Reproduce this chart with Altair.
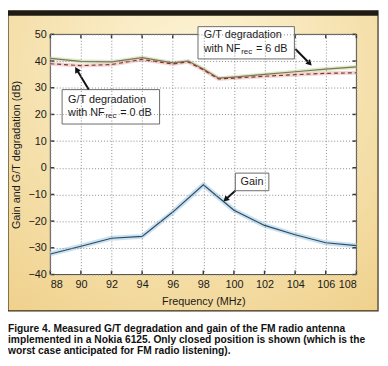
import altair as alt
import pandas as pd

# ---- data ----
freq = [88, 90, 92, 94, 96, 97, 98, 99, 100, 102, 104, 106, 108]
gt_nf6 = [41.0, 39.9, 39.7, 41.3, 39.3, 40.0, 37.0, 33.6, 34.0, 35.0, 36.0, 37.0, 37.8]
gt_nf0 = [39.0, 38.3, 38.7, 40.6, 38.9, 39.7, 36.7, 33.3, 33.6, 34.3, 34.9, 35.4, 35.6]

gain_freq = [88, 90, 92, 94, 96, 98, 100, 102, 104, 106, 108]
gain = [-32.3, -29.4, -26.4, -25.7, -16.6, -6.4, -15.9, -21.6, -25.1, -28.1, -29.2]

x_ticks = [88, 90, 92, 94, 96, 98, 100, 102, 104, 106, 108]
y_ticks = [-40, -30, -20, -10, 0, 10, 20, 30, 40, 50]

caption = [
    "Figure 4. Measured G/T degradation and gain of the FM radio antenna",
    "implemented in a Nokia 6125. Only closed position is shown (which is the",
    "worst case anticipated for FM radio listening).",
]

# annotation boxes (data coordinates)
boxes = pd.DataFrame({
    "f": [88.77, 97.65, 100.09],
    "f2": [95.14, 103.95, 102.28],
    "v": [29.3, 52.9, -2.0],
    "v2": [16.4, 40.8, -8.6],
})
box_text1 = pd.DataFrame({"f": [89.16, 98.03], "v": [25.3, 49.6], "t": ["G/T degradation", "G/T degradation"]})
box_text2 = pd.DataFrame({"f": [89.16, 98.03], "v": [20.5, 44.5], "t": ["with NF", "with NF"]})
box_sub = pd.DataFrame({"f": [89.16, 98.03], "v": [20.5, 44.5], "t": ["rec", "rec"]})
box_text3 = pd.DataFrame({"f": [89.16, 98.03], "v": [20.5, 44.5], "t": ["= 0 dB", "= 6 dB"]})
gain_label = pd.DataFrame({"f": [101.18], "v": [-5.3], "t": ["Gain"]})

arrows = pd.DataFrame({
    "f": [90.51, 104.01, 100.09],
    "v": [29.3, 44.5, -8.6],
    "f2": [89.72, 104.95, 99.45],
    "v2": [36.8, 39.1, -11.9],
})
arrow_tips = pd.DataFrame({
    "f": [89.72, 104.95, 99.45],
    "v": [36.8, 39.1, -11.9],
    "ang": [330.0, 135.0, 228.0],
})

W, H = 311, 244
FONT = "Liberation Sans"

x_enc = alt.X("f:Q", scale=alt.Scale(domain=[88, 108], nice=False, zero=False),
              axis=alt.Axis(values=x_ticks, title="Frequency (MHz)", grid=True,
                            gridDash=[1, 2], gridColor="#8a8a8a", gridWidth=1,
                            domain=False, ticks=False, labelPadding=4, labelFontSize=11,
                            labelColor="#1a1a1a", titleFontSize=11, titleFontWeight="normal",
                            titleColor="#1a1a1a", titlePadding=6, labelFont=FONT,
                            titleFont=FONT, labelOverlap=False, zindex=1))
y_enc = alt.Y("v:Q", scale=alt.Scale(domain=[-40, 50], nice=False, zero=False),
              axis=alt.Axis(values=y_ticks, title="Gain and G/T degradation (dB)", grid=True,
                            gridDash=[1, 2], gridColor="#8a8a8a", gridWidth=1,
                            domain=False, ticks=False, labelPadding=4, labelFontSize=11,
                            labelColor="#1a1a1a", titleFontSize=11, titleFontWeight="normal",
                            titleColor="#1a1a1a", titlePadding=7, labelFont=FONT,
                            titleFont=FONT, labelOverlap=False, zindex=1))

one = pd.DataFrame({"a": [0]})

panel = alt.Chart(one).mark_rect(
    color={"gradient": "radial", "x1": 0.5, "y1": 0.25, "x2": 0.5, "y2": 0.25, "r1": 0, "r2": 0.85,
           "stops": [{"offset": 0, "color": "#FDF5D8"}, {"offset": 1, "color": "#EFD08A"}]},
    stroke="#3a2e1a", strokeWidth=1.2,
).encode(x=alt.value(-43), x2=alt.value(333), y=alt.value(-24), y2=alt.value(281))

topband = alt.Chart(one).mark_rect(color="#1e1a14").encode(
    x=alt.value(-43), x2=alt.value(333), y=alt.value(-24), y2=alt.value(-19))

plotbg = alt.Chart(one).mark_rect(fill="white", stroke="#4a4a4a", strokeWidth=1).encode(
    x=alt.value(0), x2=alt.value(W), y=alt.value(0), y2=alt.value(H))

df6 = pd.DataFrame({"f": freq, "v": gt_nf6})
df0 = pd.DataFrame({"f": freq, "v": gt_nf0})
dfg = pd.DataFrame({"f": gain_freq, "v": gain})

glow6 = alt.Chart(df6).mark_line(color="#d3e6bd", strokeWidth=4, opacity=0.8).encode(x=x_enc, y=y_enc)
glow0 = alt.Chart(df0).mark_line(color="#f2cccc", strokeWidth=4, opacity=0.8).encode(x=x_enc, y=y_enc)
glowg = alt.Chart(dfg).mark_line(color="#bcdaec", strokeWidth=5, opacity=0.8).encode(x=x_enc, y=y_enc)

line6 = alt.Chart(df6).mark_line(color="#7f7550", strokeWidth=1.2).encode(x=x_enc, y=y_enc)
line0 = alt.Chart(df0).mark_line(color="#7a3a2e", strokeWidth=1.2, strokeDash=[4, 3]).encode(x=x_enc, y=y_enc)
lineg = alt.Chart(dfg).mark_line(color="#2c4a62", strokeWidth=1.2).encode(x=x_enc, y=y_enc)

xt = pd.DataFrame({"f": x_ticks})
yt = pd.DataFrame({"v": y_ticks})
tick_top = alt.Chart(xt).mark_rule(color="#333", strokeWidth=1.5).encode(x=x_enc, y=alt.value(0), y2=alt.value(4))
tick_bot = alt.Chart(xt).mark_rule(color="#333", strokeWidth=1.5).encode(x=x_enc, y=alt.value(H), y2=alt.value(H - 4))
tick_left = alt.Chart(yt).mark_rule(color="#333", strokeWidth=1.5).encode(y=y_enc, x=alt.value(0), x2=alt.value(4))
tick_right = alt.Chart(yt).mark_rule(color="#333", strokeWidth=1.5).encode(y=y_enc, x=alt.value(W), x2=alt.value(W - 4))

box_rect = alt.Chart(boxes).mark_rect(fill="white", stroke="#6a6a6a", strokeWidth=1).encode(
    x=x_enc, x2="f2:Q", y=y_enc, y2="v2:Q")

txt_kw = dict(font=FONT, fontSize=11, color="#1a1a1a", align="left", baseline="middle")
t1 = alt.Chart(box_text1).mark_text(**txt_kw).encode(x=x_enc, y=y_enc, text="t:N")
t2 = alt.Chart(box_text2).mark_text(**txt_kw).encode(x=x_enc, y=y_enc, text="t:N")
tsub = alt.Chart(box_sub).mark_text(font=FONT, fontSize=8, color="#1a1a1a", align="left",
                                    baseline="middle", dx=38, dy=3).encode(x=x_enc, y=y_enc, text="t:N")
t3 = alt.Chart(box_text3).mark_text(font=FONT, fontSize=11, color="#1a1a1a", align="left",
                                    baseline="middle", dx=53).encode(x=x_enc, y=y_enc, text="t:N")
tg = alt.Chart(gain_label).mark_text(font=FONT, fontSize=11, color="#1a1a1a", align="center",
                                     baseline="middle").encode(x=x_enc, y=y_enc, text="t:N")

arrow_line = alt.Chart(arrows).mark_rule(color="#111", strokeWidth=2).encode(
    x=x_enc, y=y_enc, x2="f2:Q", y2="v2:Q")
arrow_head = alt.Chart(arrow_tips).mark_point(shape="triangle-up", filled=True, color="#111",
                                              size=45, opacity=1).encode(
    x=x_enc, y=y_enc, angle=alt.Angle("ang:Q", scale=None))

cap = alt.Chart(one).mark_text(text=caption, font=FONT, fontSize=10.4, fontWeight="bold",
                               color="#111", align="left", baseline="top", lineHeight=11.5).encode(
    x=alt.value(-43), y=alt.value(294))

chart = alt.layer(
    panel, topband, plotbg,
    glow6, glow0, glowg,
    line6, line0, lineg,
    tick_top, tick_bot, tick_left, tick_right,
    box_rect, t1, t2, tsub, t3, tg,
    arrow_line, arrow_head,
    cap,
).properties(
    width=W, height=H,
    autosize=alt.AutoSizeParams(type="none"),
    padding={"left": 43, "top": 24, "right": 24, "bottom": 80},
).configure_view(stroke=None).configure(background="white")

chart.save("out.html", embed_options={"renderer": "svg", "actions": False})
